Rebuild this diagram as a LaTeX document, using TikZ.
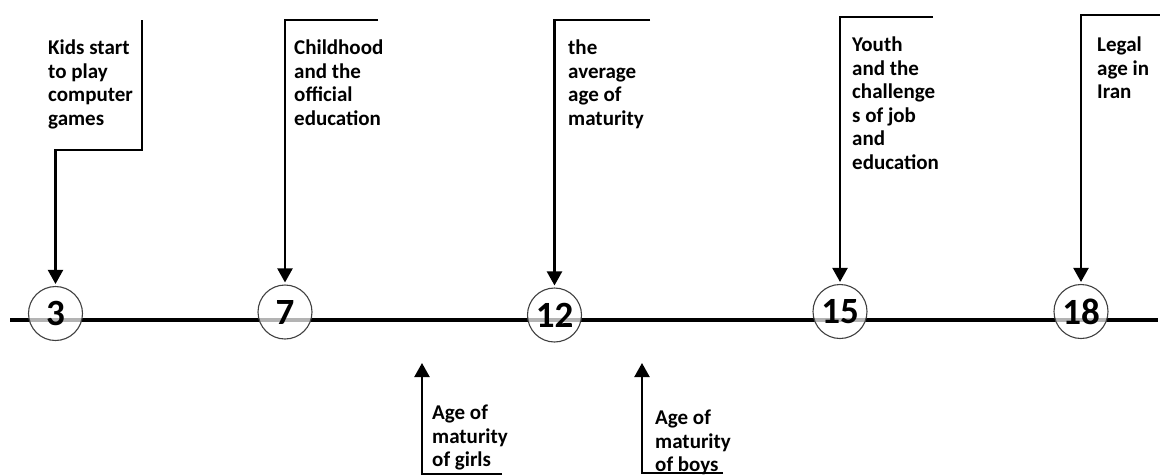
\documentclass[tikz,border=0pt]{standalone}
\usepackage{fontspec}
\setmainfont{Carlito}
\usetikzlibrary{arrows.meta}

\begin{document}
\begin{tikzpicture}[x=1pt,y=-1pt,
    age/.style={circle,draw=black!75,line width=1.1pt,fill=white,fill opacity=0.7,text opacity=1,
        minimum size=54pt,inner sep=0pt,font=\bfseries\fontsize{37}{37}\selectfont},
    note/.style={anchor=north west,align=left,inner sep=0pt,font=\bfseries\fontsize{21}{23.5}\selectfont},
    pointer/.style={line width=2.2pt,shorten >=2pt,-{Triangle[width=15pt,length=14pt]}}]
        \useasboundingbox (0,0) rectangle (1160,475);

        % the time line
        \coordinate (L) at (10,320);
        \coordinate (R) at (1158,320);
        \draw[line width=3.5pt] (L) -- (R);

        \node[age] (n3) at (55.5,313.5) {3};
        \node[age] (n7) at (285,312) {7};
        \node[age] (n12) at (554.5,315) {12};
        \node[age] (n15) at (840,311.5) {15};
        \node[age] (n18) at (1081,311.5) {18};

        % pointers from above
        \coordinate (k1) at (142,20);
        \coordinate (k2) at (142,150);
        \coordinate (c1) at (378,20);
        \coordinate (a1) at (650,20);
        \coordinate (y1) at (933,17);
        \coordinate (l1) at (1160,15);

        \draw[pointer] (k1) -- (k2) -| (n3.north);
        \draw[pointer] (c1) -| (n7.north);
        \draw[pointer] (a1) -| (n12.north);
        \draw[pointer] (y1) -| (n15.north);
        \draw[pointer] (l1) -| (n18.north);

        % pointers from below
        \coordinate (g0) at (502,474);
        \coordinate (g1) at (422,474);
        \coordinate (g2) at (422,363);
        \coordinate (b0) at (723,473);
        \coordinate (b1) at (642,473);
        \coordinate (b2) at (642,363);

        \draw[pointer,shorten >=0pt] (g0) -- (g1) -- (g2);
        \draw[pointer,shorten >=0pt] (b0) -- (b1) -- (b2);

        \node[note] (kids) at (48,40) {Kids start\\to play\\computer\\games};
        \node[note] (child) at (294,40) {Childhood\\and the\\official\\education};
        \node[note] (avg) at (568,40) {the\\average\\age of\\maturity};
        \node[note] (youth) at (852,37) {Youth\\and the\\challenge\\s of job\\and\\education};
        \node[note] (legal) at (1097,37) {Legal\\age in\\Iran};
        \node[note] (girls) at (432,405) {Age of\\maturity\\of girls};
        \node[note] (boys) at (655,410) {Age of\\maturity\\of boys};

    \end{tikzpicture}
\end{document}
